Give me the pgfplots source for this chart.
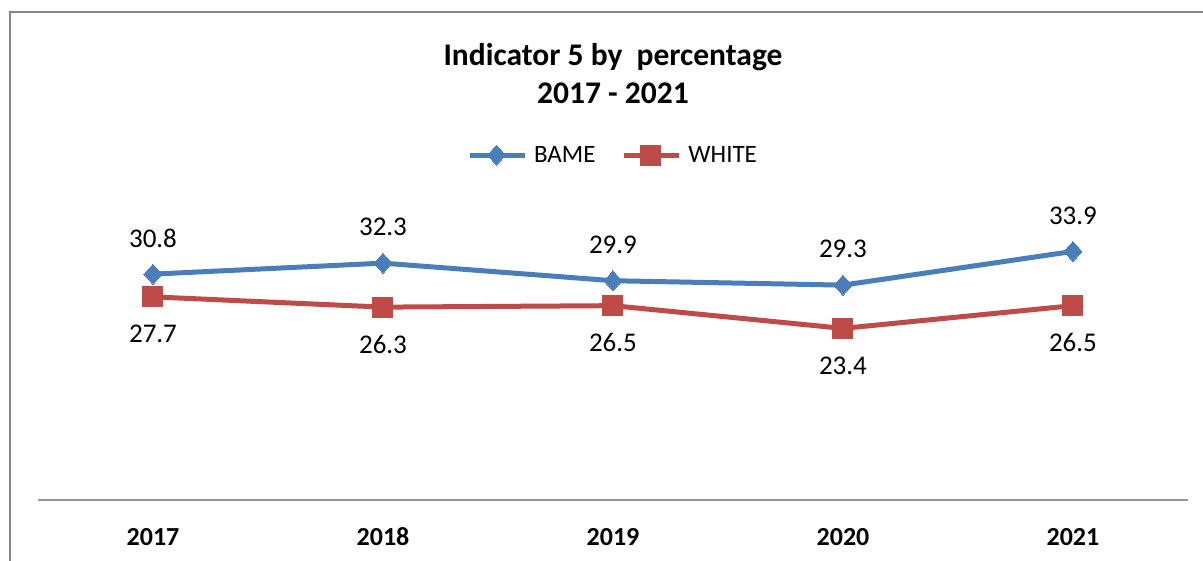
\documentclass[border=0pt]{standalone}
\usepackage{pgfplots}
\pgfplotsset{compat=1.18}
\usepackage{fontspec}
\setmainfont{Carlito}
\definecolor{bblue}{HTML}{4A7EBB}
\definecolor{rred}{HTML}{BE4B48}
\definecolor{frame}{HTML}{868686}
\definecolor{axgray}{HTML}{969696}
\begin{document}
\begin{tikzpicture}[x=1pt,y=1pt]
\useasboundingbox (0,0) rectangle (1203,561);
\draw[frame, line width=1.5pt] (10,-10) -- (10,549) -- (1215,549);
\begin{axis}[
  at={(38pt,61pt)}, anchor=south west,
  scale only axis, width=1150pt, height=440pt,
  xmin=-0.5, xmax=4.5, ymin=0, ymax=60,
  clip=false,
  axis x line*=bottom, axis y line=none,
  x axis line style={axgray, line width=2pt},
  xtick={0,1,2,3,4},
  xticklabels={2017,2018,2019,2020,2021},
  major tick length=0pt,
  xticklabel style={anchor=center, yshift=-37pt, font=\fontsize{26}{30}\selectfont\bfseries},
  ytick=\empty,
  title={Indicator 5 by\ \ percentage\\2017 - 2021},
  title style={at={(axis description cs:0.5,0.955)}, anchor=center, align=center,
    font=\fontsize{31.5}{38}\selectfont\bfseries},
  legend columns=2,
  legend style={at={(axis description cs:0.5,0.784)}, anchor=center, draw=none, fill=none,
    font=\fontsize{25}{28}\selectfont, column sep=5pt, inner sep=0pt,
    /tikz/every even column/.append style={column sep=24pt}},
  legend image code/.code={\draw[mark repeat=2,mark phase=2] plot coordinates {(0pt,0pt) (27pt,0pt) (55pt,0pt)};},
  nodes near coords={\pgfmathprintnumber[fixed,fixed zerofill,precision=1,assume math mode=true]{\pgfplotspointmeta}},
  nodes near coords style={font=\fontsize{27}{30}\selectfont, text=black, anchor=center},
]
\addplot[bblue, line width=5pt, mark=diamond*, mark size=10pt,
  mark options={xscale=1.2, line width=0pt, solid},
  every node near coord/.append style={yshift=36pt}]
  coordinates {(0,30.8) (1,32.3) (2,29.9) (3,29.3) (4,33.9)};
\addlegendentry{BAME}
\addplot[rred, line width=5pt, mark=square*, mark size=10pt,
  mark options={line width=0pt, solid},
  every node near coord/.append style={yshift=-37pt}]
  coordinates {(0,27.7) (1,26.3) (2,26.5) (3,23.4) (4,26.5)};
\addlegendentry{WHITE}
\end{axis}
\end{tikzpicture}
\end{document}
